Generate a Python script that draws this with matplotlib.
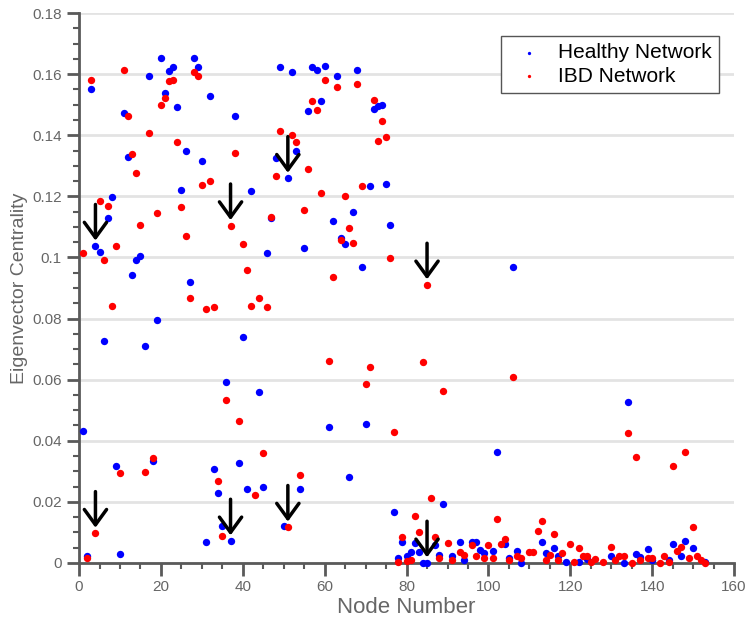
import matplotlib
matplotlib.use("Agg")
import matplotlib.pyplot as plt
from matplotlib.ticker import MultipleLocator, FormatStrFormatter

plt.rcParams['font.family'] = ['Liberation Sans', 'DejaVu Sans']

# Healthy network (blue)
healthy_node = [1, 2, 3, 4, 5, 6, 7, 8, 9, 10, 11, 12, 13, 14, 15, 16, 17, 18, 19, 20,
                21, 22, 23, 24, 25, 26, 27, 28, 29, 30, 31, 32, 33, 34, 35, 36, 37, 38, 39, 40,
                41, 42, 44, 45, 46, 47, 48, 49, 50, 51, 52, 53, 54, 55, 56, 57, 58, 59, 60,
                61, 62, 63, 64, 65, 66, 67, 68, 69, 70, 71, 72, 73, 74, 75, 76, 77, 78, 79, 80,
                81, 82, 83, 84, 85, 87, 88, 89, 91, 93, 94, 96, 97, 98, 99, 101, 102, 104, 105,
                106, 107, 108, 113, 114, 116, 117, 119, 122, 124, 130, 133, 134, 136, 137, 139,
                140, 144, 145, 147, 148, 150, 153]
healthy_ec = [0.0433, 0.0024, 0.1553, 0.1037, 0.1017, 0.0727, 0.1128, 0.1199, 0.0317, 0.0028,
              0.1472, 0.1328, 0.0943, 0.0992, 0.1005, 0.0710, 0.1594, 0.0334, 0.0796, 0.1652,
              0.1537, 0.1610, 0.1622, 0.1491, 0.1221, 0.1348, 0.0919, 0.1652, 0.1622, 0.1316,
              0.0068, 0.1528, 0.0309, 0.0228, 0.0121, 0.0593, 0.0072, 0.1464, 0.0326, 0.0740,
              0.0241, 0.1217, 0.0559, 0.0248, 0.1014, 0.1128, 0.1324, 0.1622, 0.0122, 0.1259,
              0.1606, 0.1349, 0.0241, 0.1030, 0.1479, 0.1622, 0.1613, 0.1512, 0.1627,
              0.0444, 0.1119, 0.1594, 0.1065, 0.1043, 0.0280, 0.1148, 0.1614, 0.0968, 0.0454,
              0.1234, 0.1487, 0.1496, 0.1500, 0.1239, 0.1107, 0.0166, 0.0015, 0.0068, 0.0023,
              0.0037, 0.0064, 0.0037, 0.0000, 0.0000, 0.0057, 0.0026, 0.0192, 0.0021, 0.0068,
              0.0010, 0.0070, 0.0068, 0.0043, 0.0034, 0.0040, 0.0364, 0.0061, 0.0017,
              0.0968, 0.0040, 0.0001, 0.0067, 0.0034, 0.0048, 0.0021, 0.0004, 0.0004, 0.0013,
              0.0021, 0.0000, 0.0526, 0.0028, 0.0019, 0.0045,
              0.0010, 0.0010, 0.0061, 0.0024, 0.0073, 0.0050, 0.0004]

# IBD network (red)
ibd_node = [1, 2, 3, 4, 5, 6, 7, 8, 9, 10, 11, 12, 13, 14, 15, 16, 17, 18, 19, 20,
            21, 22, 23, 24, 25, 26, 27, 28, 29, 30, 31, 32, 33, 34, 35, 36, 37, 38, 39, 40,
            41, 42, 43, 44, 45, 46, 47, 48, 49, 51, 52, 53, 54, 55, 56, 57, 58, 59, 60,
            61, 62, 63, 64, 65, 66, 67, 68, 69, 70, 71, 72, 73, 74, 75, 76, 77, 78, 79, 80,
            81, 82, 83, 84, 85, 86, 87, 88, 89, 90, 91, 93, 94, 96, 97, 99, 100,
            101, 102, 103, 104, 105, 106, 107, 108, 110, 111, 112, 113, 114, 115, 116, 117,
            118, 120, 121, 122, 123, 124, 125, 126, 128, 130, 131, 132, 133, 134, 135, 136,
            137, 139, 140, 142, 143, 144, 145, 146, 147, 148, 149, 150, 151, 152, 153]
ibd_ec = [0.1014, 0.0015, 0.1581, 0.0097, 0.1186, 0.0992, 0.1168, 0.0841, 0.1037, 0.0294,
          0.1613, 0.1463, 0.1340, 0.1275, 0.1107, 0.0299, 0.1409, 0.0343, 0.1144, 0.1499,
          0.1523, 0.1576, 0.1581, 0.1377, 0.1164, 0.1070, 0.0866, 0.1608, 0.1594, 0.1237,
          0.0830, 0.1250, 0.0838, 0.0268, 0.0089, 0.0533, 0.1104, 0.1343, 0.0465, 0.1043,
          0.0959, 0.0841, 0.0223, 0.0866, 0.0359, 0.0837, 0.1131, 0.1267, 0.1415, 0.0117,
          0.1401, 0.1377, 0.0289, 0.1155, 0.1290, 0.1513, 0.1483, 0.1210, 0.1581,
          0.0661, 0.0935, 0.1557, 0.1057, 0.1202, 0.1095, 0.1046, 0.1569, 0.1234, 0.0585,
          0.0641, 0.1515, 0.1380, 0.1447, 0.1394, 0.0997, 0.0428, 0.0004, 0.0086, 0.0006,
          0.0010, 0.0155, 0.0100, 0.0657, 0.0910, 0.0212, 0.0086, 0.0015, 0.0563, 0.0064,
          0.0010, 0.0037, 0.0026, 0.0059, 0.0023, 0.0015, 0.0057,
          0.0015, 0.0143, 0.0061, 0.0078, 0.0010, 0.0608, 0.0021, 0.0015, 0.0037, 0.0037,
          0.0105, 0.0138, 0.0010, 0.0026, 0.0094, 0.0010,
          0.0032, 0.0061, 0.0004, 0.0048, 0.0024, 0.0021, 0.0004, 0.0012, 0.0004, 0.0053,
          0.0010, 0.0024, 0.0021, 0.0424, 0.0001, 0.0346,
          0.0010, 0.0015, 0.0015, 0.0001, 0.0021, 0.0004, 0.0317, 0.0040, 0.0053, 0.0362,
          0.0015, 0.0118, 0.0021, 0.0010, 0.0001]

# nodes highlighted with arrows: (node, value)
arrow_node = [4, 37, 51, 85, 4, 37, 51, 85]
arrow_ec = [0.1037, 0.1104, 0.1259, 0.0910, 0.0097, 0.0072, 0.0117, 0.0]

grey = '#5a5a5a'

fig = plt.figure(figsize=(7.46, 6.22), dpi=100)
ax = fig.add_axes([0.106, 0.095, 0.878, 0.884])

ax.scatter(healthy_node, healthy_ec, s=28, color='#0000ff', label='Healthy Network',
           clip_on=False, zorder=4, linewidths=0)
ax.scatter(ibd_node, ibd_ec, s=28, color='#ff0000', label='IBD Network',
           clip_on=False, zorder=4, linewidths=0)

for n, v in zip(arrow_node, arrow_ec):
    ax.annotate('', xy=(n, v), xytext=(0, 30), textcoords='offset points',
                xycoords='data', annotation_clip=False, zorder=6,
                arrowprops=dict(arrowstyle='->,head_length=0.55,head_width=0.4',
                                mutation_scale=20, lw=2.5, color='black',
                                shrinkA=0, shrinkB=4))

ax.set_xlim(0, 160)
ax.set_ylim(0, 0.18)
ax.xaxis.set_major_locator(MultipleLocator(20))
ax.xaxis.set_minor_locator(MultipleLocator(5))
ax.yaxis.set_major_locator(MultipleLocator(0.02))
ax.yaxis.set_minor_locator(MultipleLocator(0.005))
ax.yaxis.set_major_formatter(FormatStrFormatter('%g'))

ax.grid(axis='y', which='major', color='#e3e3e3', lw=2)
ax.set_axisbelow(True)
for side in ['top', 'right']:
    ax.spines[side].set_visible(False)
for side in ['left', 'bottom']:
    ax.spines[side].set_color(grey)
    ax.spines[side].set_linewidth(2)

ax.tick_params(which='major', direction='out', length=9, width=2, color=grey,
               labelsize=11, labelcolor='#666666')
ax.tick_params(which='minor', direction='out', length=4.5, width=1.5, color=grey)

ax.set_xlabel('Node Number', fontsize=16, color='#666666', labelpad=2)
ax.set_ylabel('Eigenvector Centrality', fontsize=14, color='#666666', labelpad=3)

leg = ax.legend(loc='upper right', bbox_to_anchor=(0.977, 0.958), borderaxespad=0,
                fontsize=15, markerscale=0.45, fancybox=False, framealpha=1,
                handletextpad=0.4, borderpad=0.35, labelspacing=0.2)
leg.get_frame().set_edgecolor('#555555')
leg.get_frame().set_linewidth(1)

fig.savefig('out.png', dpi=100)
